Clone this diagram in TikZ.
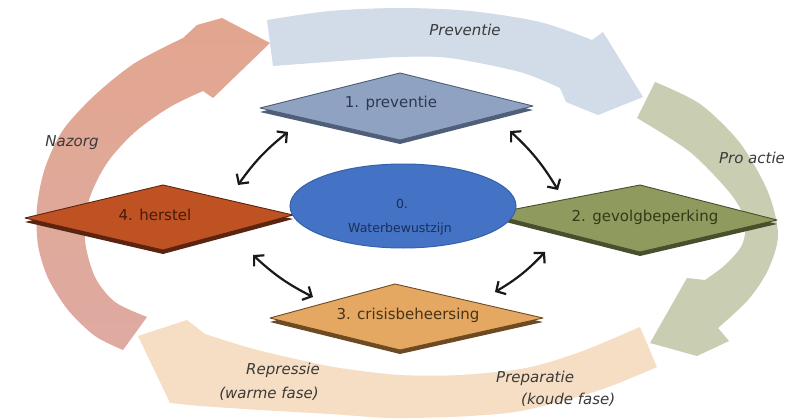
\documentclass[tikz,border=0pt]{standalone}
\usepackage{fontspec}
\setmainfont{DejaVu Sans}[ItalicFont={DejaVu Sans Oblique}]
\usetikzlibrary{arrows.meta,shapes.geometric,calc}
\definecolor{bandblue}{HTML}{D2DBE8}
\definecolor{bandgreen}{HTML}{C9CDB2}
\definecolor{bandpeach}{HTML}{F6DEC4}
\definecolor{salmontop}{HTML}{E2A68F}
\definecolor{salmonbot}{HTML}{DEAAA2}
\definecolor{faceA}{HTML}{8FA2C1}\definecolor{underA}{HTML}{4F5F7A}\definecolor{textA}{HTML}{2B3852}
\definecolor{faceB}{HTML}{8F9A5E}\definecolor{underB}{HTML}{474F2C}\definecolor{textB}{HTML}{333A18}
\definecolor{faceC}{HTML}{E4A862}\definecolor{underC}{HTML}{6E4A22}\definecolor{textC}{HTML}{4A3315}
\definecolor{faceD}{HTML}{BF5222}\definecolor{underD}{HTML}{5A2410}\definecolor{textD}{HTML}{4A1A0A}
\definecolor{ellfill}{HTML}{4472C4}\definecolor{elldraw}{HTML}{3560AA}\definecolor{elltext}{HTML}{1A2F5C}
\definecolor{labelgray}{HTML}{3A3A3A}
\newcommand{\diaplate}[6]{%
  \fill[#6] ($#1+(0,4)$) -- ($#2+(0,4)$) -- ($#3+(0,4)$) -- ($#4+(0,4)$) -- cycle;
  \filldraw[fill=#5, draw=#6, line width=0.9pt, line join=round] #1 -- #2 -- #3 -- #4 -- cycle;}
\begin{document}
\begin{tikzpicture}[x=1pt,y=-1pt,
  bandlabel/.style={inner sep=0pt, text=labelgray, font=\fontsize{15}{18}\selectfont\itshape},
  dialabel/.style={inner sep=0pt, font=\fontsize{15}{18}\selectfont},
  elllabel/.style={inner sep=0pt, text=elltext, font=\fontsize{12.5}{15}\selectfont},
  dblarrow/.style={line width=2.2pt, draw=black!90, {Straight Barb[length=7pt,width=15pt]}-{Straight Barb[length=7pt,width=15pt]}}]
\useasboundingbox (0,0) rectangle (793,420);
\fill[white] (0,0) rectangle (793,420);
% Nazorg band
\shade[top color=salmontop, bottom color=salmonbot]
  plot[smooth] coordinates {(123,350) (95,336) (68,310) (48,278) (38,245) (37,207) (45,168) (63,130) (95,95) (135,63) (183,38)}
  -- (197,25) -- (222,18) -- (270,43) -- (213,98)
  -- plot[smooth] coordinates {(203,91) (170,107) (135,132) (107,163) (89,200) (85,240) (95,277) (115,302) (147,317)} -- cycle;
% Preventie band
\fill[bandblue]
  plot[smooth] coordinates {(267,20) (330,11) (400,8) (470,11) (540,22) (592,40)}
  -- (603,32) -- (643,97) -- (598,115) -- (566,102)
  -- plot[smooth] coordinates {(560,88) (520,72) (450,58) (400,57) (340,61) (273,66)} -- cycle;
% Pro actie band
\fill[bandgreen]
  plot[smooth] coordinates {(655,82) (700,104) (740,143) (768,192) (778,235) (768,270) (748,300) (718,328)}
  -- (729,341) -- (697,356) -- (650,343) -- (687,278)
  -- plot[smooth] coordinates {(705,280) (725,265) (742,245) (745,220) (730,193) (690,152) (637,118)} -- cycle;
% Preparatie / Repressie band
\fill[bandpeach]
  plot[smooth] coordinates {(640,327) (580,352) (526,368) (460,375) (400,375) (340,368) (300,360) (250,348) (205,334)}
  -- (187,320) -- (138,336) -- (170,403)
  -- plot[smooth] coordinates {(200,406) (260,410) (330,414) (393,418) (470,416) (526,410) (600,390) (657,367)} -- cycle;
% band labels
\node[bandlabel] (lprev) at (465,30) {Preventie};
\node[bandlabel] (lpro) at (752,158) {Pro actie};
\node[bandlabel] (lnaz) at (72,143) {Nazorg};
\node[bandlabel, anchor=east] (lrep) at (320,370) {Repressie};
\node[bandlabel, anchor=east] (lwarm) at (319,394) {(warme fase)};
\node[bandlabel, anchor=west] (lprep) at (496,378) {Preparatie};
\node[bandlabel, anchor=west] (lkoud) at (521,400) {(koude fase)};
% diamonds
\diaplate{(260,108)}{(400,73)}{(533,106)}{(400,140)}{faceA}{underA}
\diaplate{(490,214)}{(640,185)}{(777,220)}{(640,252)}{faceB}{underB}
\diaplate{(270,318)}{(395,284)}{(543,318)}{(400,350)}{faceC}{underC}
\diaplate{(25,218)}{(163,185)}{(293,215)}{(163,250)}{faceD}{underD}
\node[dialabel, text=textA] (d1) at (391,103) {1. preventie};
\node[dialabel, text=textB] (d2) at (645,217) {2. gevolgbeperking};
\node[dialabel, text=textC] (d3) at (408,315) {3. crisisbeheersing};
\node[dialabel, text=textD] (d4) at (155,215) {4. herstel};
% ellipse
\node[ellipse, draw=elldraw, fill=ellfill, line width=1pt, minimum width=226pt, minimum height=84pt] (e0) at (403,206) {};
\node[elllabel] (e0a) at (402,204) {0.};
\node[elllabel] (e0b) at (400,229) {Waterbewustzijn};
% double arrows
\coordinate (c1a) at (238,185); \coordinate (c1b) at (288,132);
\coordinate (c2a) at (510,131); \coordinate (c2b) at (558,190);
\coordinate (c3a) at (253,255); \coordinate (c3b) at (313,297);
\coordinate (c4a) at (545,252); \coordinate (c4b) at (495,292);
\draw[dblarrow] (c1a) to[bend left=8] (c1b);
\draw[dblarrow] (c2a) to[bend left=8] (c2b);
\draw[dblarrow] (c3a) to[bend right=8] (c3b);
\draw[dblarrow] (c4a) to[bend left=8] (c4b);
\end{tikzpicture}
\end{document}
